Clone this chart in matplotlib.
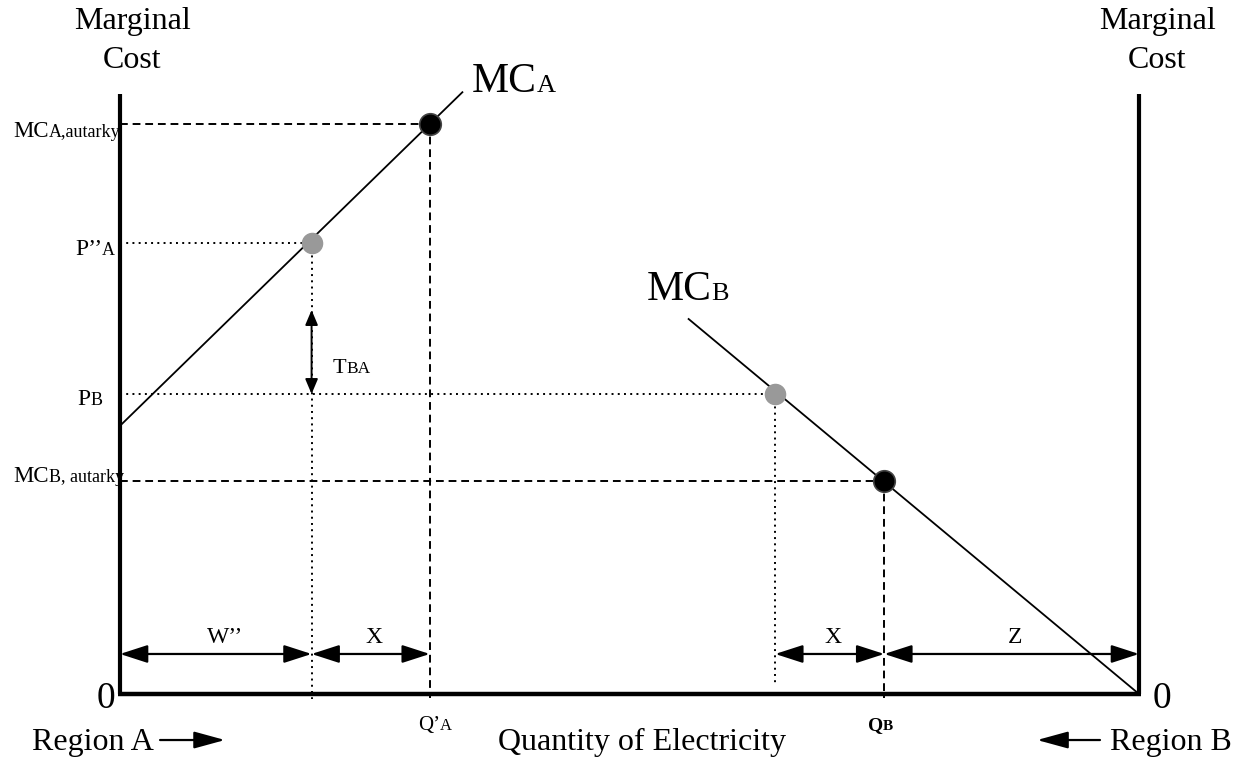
import matplotlib
matplotlib.use("Agg")
import matplotlib.pyplot as plt
import matplotlib.transforms as mtransforms
from matplotlib.patches import FancyArrowPatch

# ---------------- data (conceptual units: quantity 0..100, cost 0..100) ----------------
q_max = 100.0
p_max = 100.0
mc_a_q = [0.0, 33.6]
mc_a_p = [44.7, 100.3]
mc_b_q = [55.8, 100.0]
mc_b_p = [62.5, 0.0]
autarky_q = [30.4, 75.0]          # Q'A, QB
autarky_p = [95.0, 35.5]          # MC A autarky, MC B autarky
trade_q = [18.8, 64.3]            # gray points
trade_p = [75.2, 50.0]            # P''A, PB
tariff_top = 64.0
segment_bounds = [0.0, 18.8, 30.4, 64.3, 75.0, 100.0]
segment_labels = ["W\u2019\u2019", "X", None, "X", "Z"]
arrow_level = 6.67

FONT = "Liberation Serif"
plt.rcParams["font.family"] = [FONT, "DejaVu Serif"]

fig = plt.figure(figsize=(12.45, 7.63), dpi=100)
ax = fig.add_axes([0, 0, 1, 1])
ax.set_xlim(-11.776, 110.40)
ax.set_ylim(-11.5, 115.67)
ax.axis("off")
renderer = fig.canvas.get_renderer()


def mixed(x, y, parts, ha="left"):
    """parts: list of (text, size, weight) on a common baseline."""
    texts = []
    widths = []
    for s, size, weight in parts:
        t = ax.text(x, y, s, fontsize=size, fontweight=weight, va="baseline",
                    ha="left", family=FONT, zorder=2)
        widths.append(t.get_window_extent(renderer).width)
        texts.append(t)
    total = sum(widths)
    start = 0.0
    if ha == "center":
        start = -total / 2
    elif ha == "right":
        start = -total
    off = start
    for t, w in zip(texts, widths):
        t.set_transform(mtransforms.offset_copy(ax.transData, fig=fig, x=off, y=0, units="dots"))
        off += w
    return texts


# ---------------- axes frame ----------------
ax.plot([0, 0], [0, p_max], color="black", lw=3.0, solid_capstyle="butt", zorder=5)
ax.plot([q_max, q_max], [0, p_max], color="black", lw=3.0, solid_capstyle="butt", zorder=5)
ax.plot([-0.15, q_max + 0.15], [0, 0], color="black", lw=3.2, solid_capstyle="butt", zorder=5)

# ---------------- curves ----------------
ax.plot(mc_a_q, mc_a_p, color="black", lw=1.3, zorder=3)
ax.plot(mc_b_q, mc_b_p, color="black", lw=1.3, zorder=3)

dash = (0, (4, 2.5))
dot = (0, (1, 2.2))
# autarky guides (dashed)
ax.plot([0, autarky_q[0]], [autarky_p[0], autarky_p[0]], color="black", lw=1.4, ls=dash, zorder=2)
ax.plot([autarky_q[0], autarky_q[0]], [autarky_p[0], -0.6], color="black", lw=1.4, ls=dash, zorder=2)
ax.plot([0, autarky_q[1]], [autarky_p[1], autarky_p[1]], color="black", lw=1.4, ls=dash, zorder=2)
ax.plot([autarky_q[1], autarky_q[1]], [autarky_p[1], -0.6], color="black", lw=1.4, ls=dash, zorder=2)
# trade guides (dotted)
ax.plot([0, trade_q[0]], [trade_p[0], trade_p[0]], color="black", lw=1.4, ls=dot, zorder=2)
ax.plot([trade_q[0], trade_q[0]], [trade_p[0], -0.8], color="black", lw=1.4, ls=dot, zorder=2)
ax.plot([0, trade_q[1]], [trade_p[1], trade_p[1]], color="black", lw=1.4, ls=dot, zorder=2)
ax.plot([trade_q[1], trade_q[1]], [trade_p[1], 1.8], color="black", lw=1.4, ls=dot, zorder=2)

# points
ax.plot(autarky_q, autarky_p, "o", ms=15.5, color="black", mec="#444444", mew=1.2, zorder=4)
ax.plot(trade_q, trade_p, "o", ms=14.5, color="#999999", mec="#999999", zorder=4)

# tariff arrow
ax.add_patch(FancyArrowPatch((trade_q[0], trade_p[1]), (trade_q[0], tariff_top),
                             arrowstyle="<|-|>,head_length=9,head_width=3.8", mutation_scale=1,
                             lw=1.4, color="black", shrinkA=0, shrinkB=0, zorder=3))
mixed(20.9, 53.5, [("T", 16, "normal"), ("BA", 12.5, "normal")])

# quantity segment arrows
for i, lab in enumerate(segment_labels):
    if lab is None:
        continue
    a, b = segment_bounds[i], segment_bounds[i + 1]
    ax.add_patch(FancyArrowPatch((a, arrow_level), (b, arrow_level),
                                 arrowstyle="<|-|>,head_length=17,head_width=5.5", mutation_scale=1,
                                 lw=1.6, color="black", shrinkA=0, shrinkB=0, zorder=3))
    cx = (a + b) / 2 + (0.9 if i == 0 else 0.3)
    ax.text(cx, 8.5, lab, fontsize=17, ha="center", va="baseline", family=FONT)

# curve labels
mixed(34.5, 100.3, [("MC", 30, "normal"), ("A", 19, "normal")])
mixed(51.7, 65.67, [("MC", 30, "normal"), ("B", 19, "normal")])

# vertical axis labels
mixed(-10.5, 92.83, [("MC", 16.5, "normal"), ("A,autarky", 13, "normal")])
mixed(-4.42, 73.17, [("P\u2019\u2019", 17, "normal"), ("A", 13, "normal")])
mixed(-4.22, 48.17, [("P", 17, "normal"), ("B", 13, "normal")])
mixed(-10.5, 35.33, [("MC", 16.5, "normal"), ("B, autarky", 13, "normal")])

# horizontal axis labels
mixed(29.24, -6.0, [("Q\u2019", 15, "normal"), ("A", 12, "normal")])
mixed(73.4, -6.0, [("Q", 14, "bold"), ("B", 11, "bold")])

# axis titles
for cx in (1.18, 101.77):
    ax.text(cx, 110.83, "Marginal", fontsize=23, ha="center", va="baseline", family=FONT)
    ax.text(cx, 104.33, "Cost", fontsize=23, ha="center", va="baseline", family=FONT)

ax.text(-0.5, -2.33, "0", fontsize=27, ha="right", va="baseline", family=FONT)
ax.text(101.37, -2.33, "0", fontsize=27, ha="left", va="baseline", family=FONT)

ax.text(51.2, -9.33, "Quantity of Electricity", fontsize=23, ha="center", va="baseline", family=FONT)
ax.text(-8.64, -9.33, "Region A", fontsize=23, ha="left", va="baseline", family=FONT)
ax.text(97.15, -9.33, "Region B", fontsize=23, ha="left", va="baseline", family=FONT)

ax.add_patch(FancyArrowPatch((3.93, -7.67), (10.3, -7.67),
                             arrowstyle="-|>,head_length=19,head_width=5.2", mutation_scale=1,
                             lw=1.6, color="black", shrinkA=0, shrinkB=0))
ax.add_patch(FancyArrowPatch((96.17, -7.67), (90.0, -7.67),
                             arrowstyle="-|>,head_length=19,head_width=5.2", mutation_scale=1,
                             lw=1.6, color="black", shrinkA=0, shrinkB=0))

fig.savefig("out.png", dpi=100)
